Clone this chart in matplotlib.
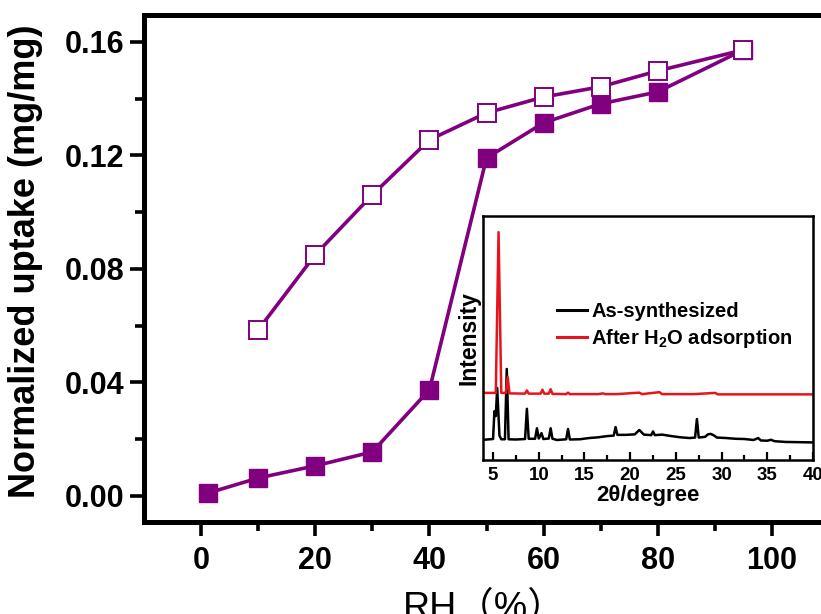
import matplotlib
matplotlib.use('Agg')
import matplotlib.pyplot as plt
from matplotlib.ticker import MultipleLocator, FixedLocator

# ---- main isotherm data ----
rh_ads = [1.2, 10, 20, 30, 40, 50, 60, 70, 80, 95]
up_ads = [0.001, 0.0063, 0.0106, 0.0155, 0.0374, 0.1191, 0.1315, 0.1382, 0.1424, 0.1572]
rh_des = [95, 80, 70, 60, 50, 40, 30, 20, 10]
up_des = [0.1572, 0.1498, 0.1442, 0.1406, 0.135, 0.1255, 0.1061, 0.0850, 0.0585]

x_major = [0, 20, 40, 60, 80, 100]
y_major = [0.00, 0.04, 0.08, 0.12, 0.16]

# ---- inset XRD patterns (arbitrary units) ----
xrd_as_x = [4.0, 5.0, 5.15, 5.3, 5.45, 5.7, 5.9, 6.3, 6.5, 6.7, 7.5, 8.5, 8.7, 8.9,
            9.6, 9.8, 10.0, 10.3, 10.5, 11.1, 11.3, 11.5, 12.0, 13.0, 13.2, 13.4,
            14.5, 15.5, 16.5, 17.5, 18.2, 18.4, 18.6, 19.5, 20.5, 21.0, 21.5, 22.3,
            22.5, 22.7, 23.5, 24.5, 25.5, 26.5, 27.1, 27.3, 27.5, 28.2, 28.5, 28.8,
            29.1, 29.5, 30.5, 31.5, 32.5, 33.5, 34.0, 34.3, 35.0, 35.4, 35.8, 37.0,
            38.5, 40.0]
xrd_as_y = [8.3, 8.6, 20.0, 18.0, 29.5, 10.0, 8.5, 8.5, 37.3, 8.5, 8.4, 8.6, 21.0, 8.7,
            8.7, 13.0, 8.8, 11.0, 8.6, 8.8, 13.0, 8.7, 8.2, 8.5, 12.7, 8.4,
            8.5, 9.0, 9.3, 9.8, 10.0, 13.5, 10.3, 10.3, 10.5, 12.3, 10.4, 10.2,
            11.7, 10.2, 10.4, 9.8, 9.3, 9.0, 9.2, 16.8, 9.2, 9.5, 10.5, 10.7,
            10.2, 9.2, 9.0, 8.7, 8.6, 8.2, 9.0, 8.0, 7.9, 8.3, 7.7, 7.4,
            7.3, 7.2]
xrd_h2o_x = [4.0, 5.3, 5.6, 5.9, 6.4, 6.6, 6.8, 8.5, 8.7, 8.9, 10.2, 10.4, 10.6,
             11.1, 11.3, 11.5, 13.0, 13.2, 13.4, 16.5, 17.0, 17.3, 18.5, 21.0,
             21.3, 23.2, 23.5, 27.0, 29.3, 29.6, 32.0, 40.0]
xrd_h2o_y = [27.5, 27.5, 93.4, 27.5, 27.5, 34.0, 27.3, 27.2, 28.5, 27.2, 27.2, 28.8, 27.2,
             27.2, 29.0, 27.1, 27.0, 27.6, 27.0, 27.0, 27.3, 27.0, 27.0, 27.6,
             27.0, 27.8, 27.0, 27.0, 27.5, 26.9, 26.9, 26.9]
xrd_labels = ['As-synthesized', 'After H$_2$O adsorption']
xrd_ticks = [5, 10, 15, 20, 25, 30, 35, 40]

purple = '#800080'
plt.rcParams['font.family'] = ['Liberation Sans', 'DejaVu Sans']
plt.rcParams['mathtext.fontset'] = 'custom'
plt.rcParams['mathtext.rm'] = 'Liberation Sans:bold'
plt.rcParams['mathtext.default'] = 'rm'

fig = plt.figure(figsize=(8.21, 6.14), dpi=100)
ax = fig.add_axes([144 / 821, 1 - 522 / 614, (829 - 144) / 821, (522 - 15) / 614])

ax.plot(rh_ads, up_ads, '-s', color=purple, lw=2.6, ms=12.5, mfc=purple, mec=purple,
        zorder=3, clip_on=False)
ax.plot(rh_des, up_des, '-s', color=purple, lw=2.6, ms=12.5, mfc='white', mec=purple,
        mew=1.4, zorder=4, clip_on=False)

ax.set_xlim(-10, 110)
ax.set_ylim(-0.0092, 0.1695)
ax.xaxis.set_major_locator(FixedLocator(x_major))
ax.xaxis.set_minor_locator(FixedLocator([10, 30, 50, 70, 90]))
ax.yaxis.set_major_locator(FixedLocator(y_major))
ax.yaxis.set_minor_locator(FixedLocator([0.02, 0.06, 0.10, 0.14]))
ax.set_xticklabels([str(v) for v in x_major])
ax.set_yticklabels(['%.2f' % v for v in y_major])
for s in ax.spines.values():
    s.set_linewidth(3.6)
ax.tick_params(which='major', direction='out', length=10, width=2.6, labelsize=22)
ax.tick_params(axis='x', which='major', pad=7)
ax.tick_params(axis='y', which='major', pad=4)
ax.tick_params(which='minor', direction='out', length=6.5, width=2.6)
ax.tick_params(top=False, right=False, which='both')
for lab in ax.get_xticklabels() + ax.get_yticklabels():
    lab.set_fontweight('bold')

ax.set_ylabel('Normalized uptake (mg/mg)', fontsize=26, fontweight='bold')
ax.yaxis.set_label_coords(-0.147, 0.515)
ax.set_xlabel('RH（%）', fontsize=27, family=['Liberation Sans', 'Noto Sans CJK SC'])
ax.xaxis.set_label_coords(0.497, -0.135)

# ---- inset ----
ins = fig.add_axes([483 / 821, 1 - 460 / 614, (813 - 483) / 821, (460 - 216) / 614])
ins.set_facecolor('white')
l1, = ins.plot(xrd_as_x, xrd_as_y, color='black', lw=1.8)
l2, = ins.plot(xrd_h2o_x, xrd_h2o_y, color='#e8141b', lw=1.8)
ins.set_xlim(3.9, 40)
ins.set_ylim(0, 100)
ins.set_yticks([])
ins.xaxis.set_major_locator(FixedLocator(xrd_ticks))
ins.xaxis.set_minor_locator(MultipleLocator(2.5))
ins.tick_params(axis='x', which='major', direction='in', length=6, width=1.6,
                labelsize=13.5, pad=5)
ins.tick_params(axis='x', which='minor', direction='in', length=3.5, width=1.6)
for lab in ins.get_xticklabels():
    lab.set_fontweight('bold')
for s in ins.spines.values():
    s.set_linewidth(1.8)
ins.set_xlabel('2θ/degree', fontsize=16, fontweight='bold', labelpad=1)
ins.set_ylabel('Intensity', fontsize=16.5, fontweight='bold', labelpad=2)
ins.legend([l1, l2], xrd_labels, loc='center left', bbox_to_anchor=(0.225, 0.55),
           frameon=False, prop={'weight': 'bold', 'size': 14.5},
           handlelength=1.5, handletextpad=0.2, labelspacing=0.3, borderpad=0,
           borderaxespad=0)
for ln in ins.get_legend().get_lines():
    ln.set_linewidth(2.2)

fig.savefig('out.png', dpi=100)
